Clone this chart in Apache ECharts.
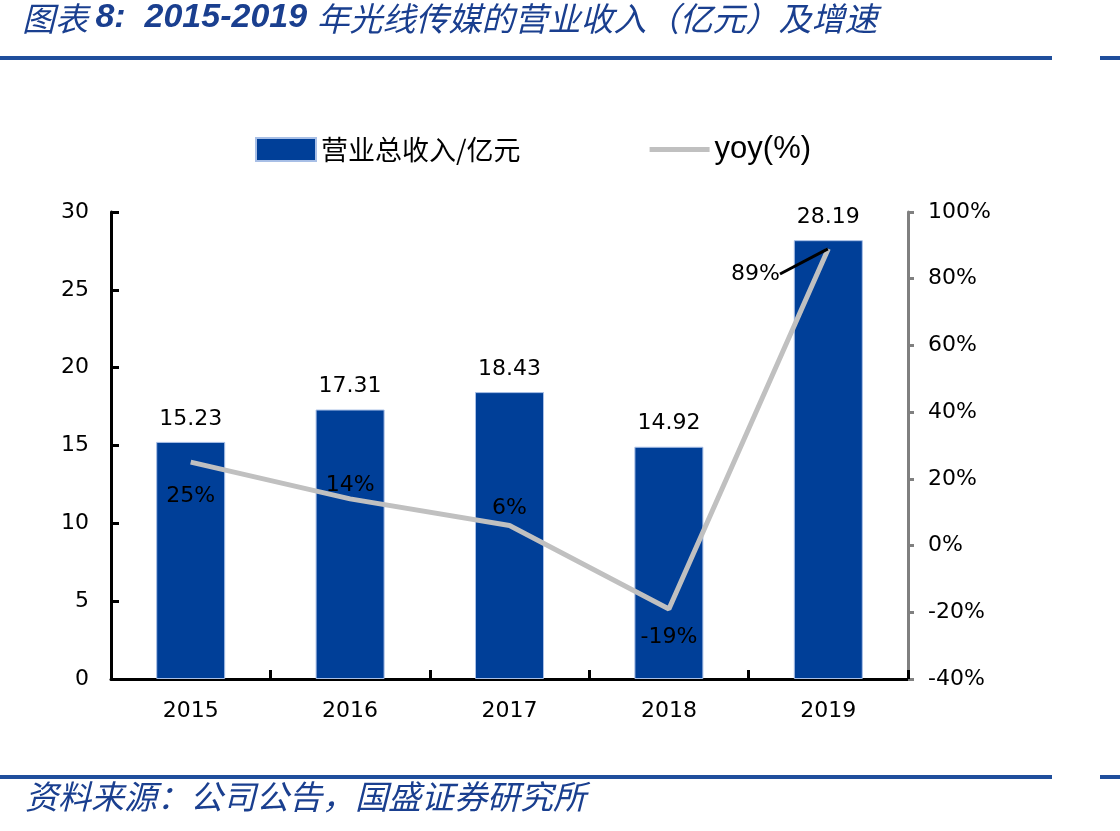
<!DOCTYPE html>
<html>
<head>
<meta charset="utf-8">
<script src="https://cdn.jsdelivr.net/npm/echarts@6/dist/echarts.min.js"></script>
<style>
  html, body { margin: 0; padding: 0; background: #fff; }
  #chart { width: 1120px; height: 831px; }
</style>
</head>
<body>
<div id="chart"></div>
<script>
// 数据
const years = ['2015', '2016', '2017', '2018', '2019'];
const revenue = [15.23, 17.31, 18.43, 14.92, 28.19];
const yoy = [25, 14, 6, -19, 89];
const yoyLabelPos = ['bottom', 'top', 'top', 'bottom', 'left'];
const yoyLabelDist = [23, 2, 6, 17, 12];

const blue = '#003f98';
const navy = '#1a3f8f';
const gray = '#c0c0c0';
const numFont = 'DejaVu Sans';

let myChart = echarts.init(document.getElementById('chart'));

let option = {
    animation: false,
    backgroundColor: '#fff',
    graphic: [
        {
            type: 'text', left: 22, top: 1,
            style: {
                text: '{cn|图表 }{num|8:  2015-2019 }{cn|年光线传媒的营业收入（亿元）及增速}',
                rich: {
                    cn: { fontFamily: 'Noto Sans CJK SC', fontSize: 33, fontStyle: 'italic', fill: navy },
                    num: { fontFamily: 'Liberation Sans', fontSize: 34, fontStyle: 'italic', fontWeight: 'bold', fill: navy }
                }
            }
        },
        { type: 'rect', shape: { x: 0, y: 56, width: 1052, height: 4 }, style: { fill: '#1f4e9c' } },
        { type: 'rect', shape: { x: 1100, y: 56, width: 20, height: 4 }, style: { fill: '#1f4e9c' } },
        { type: 'rect', shape: { x: 0, y: 775, width: 1052, height: 4 }, style: { fill: '#1f4e9c' } },
        { type: 'rect', shape: { x: 1100, y: 775, width: 20, height: 4 }, style: { fill: '#1f4e9c' } },
        {
            type: 'text', left: 25, top: 780,
            style: {
                text: '资料来源：公司公告，国盛证券研究所',
                fontFamily: 'Noto Sans CJK SC', fontSize: 33, fontStyle: 'italic', fill: navy
            }
        }
    ],
    legend: {
        top: 129,
        left: 250,
        itemWidth: 60,
        itemHeight: 23,
        itemGap: 129,
        data: [
            { name: '营业总收入/亿元', icon: 'rect', textStyle: { fontFamily: 'Noto Sans CJK SC', fontSize: 27 } },
            {
                name: 'yoy(%)', icon: 'path://M0,0 L60,0 L60,5 L0,5 Z',
                itemStyle: { color: gray, opacity: 1 },
                textStyle: { fontFamily: 'Liberation Sans', fontSize: 31 }
            }
        ],
        textStyle: { color: '#000' }
    },
    grid: { left: 111, right: 212, top: 212, bottom: 152 },
    xAxis: {
        type: 'category',
        data: years,
        axisLine: { lineStyle: { color: '#000', width: 3 } },
        axisTick: { show: true, inside: true, length: 9, lineStyle: { color: '#000', width: 3 } },
        axisLabel: { fontFamily: numFont, fontSize: 22, color: '#000', margin: 21 }
    },
    yAxis: [
        {
            type: 'value', min: 0, max: 30, interval: 5,
            splitLine: { show: false },
            axisLine: { show: true, lineStyle: { color: '#000', width: 3 } },
            axisTick: { show: true, inside: true, length: 8, lineStyle: { color: '#000', width: 3 } },
            axisLabel: { fontFamily: numFont, fontSize: 22, color: '#000', margin: 22 }
        },
        {
            type: 'value', min: -40, max: 100, interval: 20,
            splitLine: { show: false },
            axisLine: { show: true, lineStyle: { color: '#808080', width: 3 } },
            axisTick: { show: true, length: 6, lineStyle: { color: '#808080', width: 3 } },
            axisLabel: { fontFamily: numFont, fontSize: 22, color: '#000', margin: 20, formatter: '{value}%' }
        }
    ],
    series: [
        {
            name: '营业总收入/亿元',
            type: 'bar',
            data: revenue,
            barWidth: 69,
            itemStyle: { color: blue, borderColor: '#a8bfe6', borderWidth: 1 },
            label: {
                show: true, position: 'top', distance: 12,
                fontFamily: numFont, fontSize: 22, color: '#000'
            }
        },
        {
            name: 'yoy(%)',
            type: 'line',
            yAxisIndex: 1,
            data: yoy.map((v, i) => ({
                value: v,
                label: { position: yoyLabelPos[i], distance: yoyLabelDist[i] },
                labelLine: { show: i === 4 }
            })),
            symbol: 'circle',
            symbolSize: 1,
            showSymbol: true,
            lineStyle: { color: gray, width: 5 },
            itemStyle: { color: 'rgba(0,0,0,0)' },
            label: {
                show: true, formatter: '{c}%',
                fontFamily: numFont, fontSize: 22, color: '#000'
            },
            labelLine: { show: false, lineStyle: { color: '#000', width: 3 } },
            labelLayout: function (params) {
                if (params.dataIndex === 4) {
                    return { x: 780, y: 274, align: 'right', verticalAlign: 'middle' };
                }
                return {};
            }
        }
    ]
};

myChart.setOption(option);
</script>
</body>
</html>
